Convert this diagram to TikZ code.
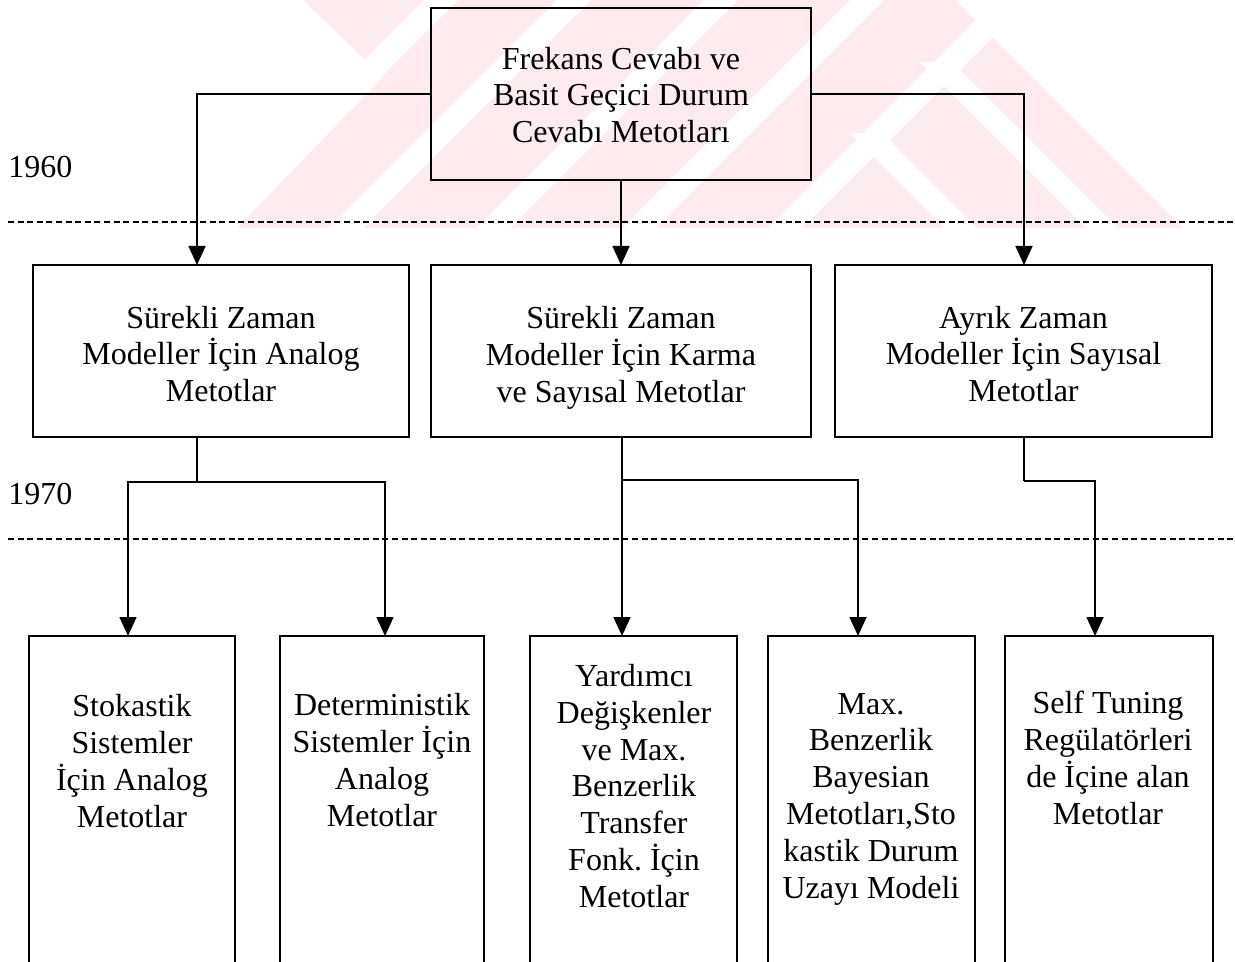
\documentclass[tikz,border=0pt]{standalone}
\usepackage{fontspec}
\setmainfont{Liberation Serif}
\usetikzlibrary{arrows.meta}
\definecolor{wm}{RGB}{253,235,239}
\frenchspacing
\begin{document}
\begin{tikzpicture}[x=0.5pt,y=-0.5pt,
  box/.style={draw,line width=1.4pt,inner sep=0pt,outer sep=0pt},
  txt/.style={align=center,font=\fontsize{16}{18.4}\selectfont,inner sep=0pt},
  conn/.style={line width=0.8pt},
  arr/.style={conn,-{Triangle[width=8.5pt,length=9.5pt]}},
  era/.style={dash pattern=on 3pt off 1.8pt,line width=1.15pt},
  year/.style={anchor=west,inner sep=0pt,font=\fontsize{16}{18.4}\selectfont},
  wmstripe/.style={fill=white}]
\useasboundingbox (0,0) rectangle (1235,962);
\clip (0,0) rectangle (1235,962);
% faint watermark
\fill[wm] (303,0) -- (955,0) -- (1183,228) -- (237,228) -- (383,77) -- cycle;
\foreach \s in {424,557,704,850,996}{
  \fill[wmstripe] (\s,0) -- (\s+34,0) -- (\s+34-228,228) -- (\s-228,228) -- cycle;
}
\fill[wmstripe] (920,62) -- (952,62) -- (1118,228) -- (1086,228) -- cycle;
\fill[wmstripe] (850,133) -- (882,133) -- (977,228) -- (945,228) -- cycle;
% top box
\node[box,minimum width=190pt,minimum height=86pt] (top) at (621,94) {};
\node[txt] (topt) at (621,95) {Frekans Cevabı ve\\Basit Geçici Durum\\Cevabı Metotları};
% second row
\node[box,minimum width=188pt,minimum height=86pt] (b1) at (221,351) {};
\node[box,minimum width=190pt,minimum height=86pt] (b2) at (621,351) {};
\node[box,minimum width=188.5pt,minimum height=86pt] (b3) at (1023.5,351) {};
\node[txt] (b1t) at (221,354) {Sürekli Zaman\\Modeller İçin Analog\\Metotlar};
\node[txt] (b2t) at (621,358) {Sürekli Zaman\\Modeller İçin Karma\\ve Sayısal Metotlar};
\node[txt] (b3t) at (1023.5,354) {Ayrık Zaman\\Modeller İçin Sayısal\\Metotlar};
% third row boxes
\node[box,minimum width=103pt,minimum height=174pt] (r1) at (132,810) {};
\node[box,minimum width=102pt,minimum height=174pt] (r2) at (382,810) {};
\node[box,minimum width=103.5pt,minimum height=174pt] (r3) at (633.5,810) {};
\node[box,minimum width=103.5pt,minimum height=174pt] (r4) at (871.5,810) {};
\node[box,minimum width=104pt,minimum height=174pt] (r5) at (1109,810) {};
\node[txt] (t1) at (132,761) {Stokastik\\Sistemler\\İçin Analog\\Metotlar};
\node[txt] (t2) at (382,760) {Deterministik\\Sistemler İçin\\Analog\\Metotlar};
\node[txt] (t3) at (634,786) {Yardımcı\\Değişkenler\\ve Max.\\Benzerlik\\Transfer\\Fonk. İçin\\Metotlar};
\node[txt] (t4) at (871,799) {Max.\\Benzerlik\\Bayesian\\Metotları,Sto\\kastik Durum\\Uzayı Modeli};
\node[txt] (t5) at (1108,758) {Self Tuning\\Regülatörleri\\de İçine alan\\Metotlar};
% years and era lines
\node[year] (y60) at (8,167) {1960};
\node[year] (y70) at (8,494) {1970};
\draw[era] (8,222) -- (1235,222);
\draw[era] (8,539) -- (1235,539);
% helper coordinates
\coordinate (x1) at (197,0);
\coordinate (x3) at (1024,0);
\coordinate (j1) at (197,482);
\coordinate (j2) at (622,480);
\coordinate (j3) at (1024,481);
\coordinate (c1) at (128,0);
\coordinate (c2) at (385,0);
\coordinate (c3) at (622,0);
\coordinate (c4) at (858,0);
\coordinate (c5) at (1095,0);
% connectors
\draw[arr] (top.west) -| (b1.north -| x1);
\draw[arr] (top.south) -- (b2.north);
\draw[arr] (top.east) -| (b3.north -| x3);
\draw[conn] (b1.south -| j1) -- (j1);
\draw[arr] (j1) -| (r1.north -| c1);
\draw[arr] (j1) -| (r2.north -| c2);
\draw[conn] (b2.south -| j2) -- (j2);
\draw[arr] (j2) -- (r3.north -| c3);
\draw[arr] (j2) -| (r4.north -| c4);
\draw[conn] (b3.south -| j3) -- (j3);
\draw[arr] (j3) -| (r5.north -| c5);
\end{tikzpicture}
\end{document}
